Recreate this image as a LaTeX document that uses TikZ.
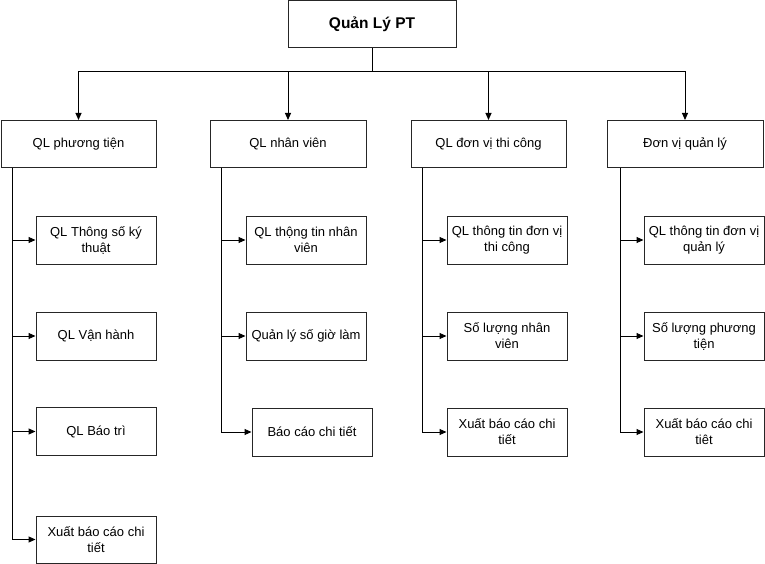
\documentclass[tikz,border=0pt]{standalone}
\usepackage{fontspec}
\setmainfont{Liberation Sans}
\usetikzlibrary{arrows.meta}
\begin{document}
\begin{tikzpicture}[x=1pt,y=-1pt,
  box/.style={draw=black!85, line width=1pt, fill=white, inner sep=0pt, align=center,
    font=\fontsize{13}{16}\selectfont},
  pbox/.style={box, minimum width=155, minimum height=47},
  cbox/.style={box, minimum width=120, minimum height=48},
  arr/.style={line width=1pt, -{Triangle[length=7pt,width=6pt]}},
  ln/.style={line width=1pt}]
\useasboundingbox (0,0) rectangle (765,564);
\node[box, minimum width=168, minimum height=47.5,
  font=\bfseries\fontsize{15.5}{18}\selectfont] (top) at (372,24.25) {Quản Lý PT};
\coordinate (bus) at (372,72);
% level 1
\node[pbox] (p1) at (78.5,144) {QL phương tiện};
\node[pbox, minimum width=156] (p2) at (288,144) {QL nhân viên};
\node[pbox] (p3) at (488.5,144) {QL đơn vị thi công};
\node[pbox, minimum width=156] (p4) at (685,144) {Đơn vị quản lý};
% column 1
\node[cbox] (c11) at (96,240) {QL Thông số ký\\thuật};
\node[cbox] (c12) at (96,336) {QL Vận hành};
\node[cbox] (c13) at (96,431.5) {QL Báo trì};
\node[cbox, minimum height=47] (c14) at (96,539.5) {Xuất báo cáo chi\\tiết};
% column 2
\node[cbox] (c21) at (306,240) {QL thộng tin nhân\\viên};
\node[cbox] (c22) at (306,336) {Quản lý số giờ làm};
\node[cbox] (c23) at (312,432) {Báo cáo chi tiết};
% column 3
\node[cbox] (c31) at (507,240) {QL thông tin đơn vị\\thi công};
\node[cbox] (c32) at (507,336) {Số lượng nhân\\viên};
\node[cbox] (c33) at (507,432) {Xuất báo cáo chi\\tiết};
% column 4
\node[cbox] (c41) at (704,240) {QL thông tin đơn vị\\quản lý};
\node[cbox] (c42) at (704,336) {Số lượng phương\\tiện};
\node[cbox] (c43) at (704,432) {Xuất báo cáo chi\\tiêt};
% top connectors
\draw[ln] (top.south) -- (bus);
\foreach \p in {p1,p2,p3,p4} \draw[arr] (bus) -| (\p.north);
% column connectors
\foreach \c in {c11,c12,c13,c14} \draw[arr] ([xshift=12pt]p1.south west) |- (\c.west);
\foreach \c in {c21,c22,c23} \draw[arr] ([xshift=12pt]p2.south west) |- (\c.west);
\foreach \c in {c31,c32,c33} \draw[arr] ([xshift=12pt]p3.south west) |- (\c.west);
\foreach \c in {c41,c42,c43} \draw[arr] ([xshift=14pt]p4.south west) |- (\c.west);
\end{tikzpicture}
\end{document}
